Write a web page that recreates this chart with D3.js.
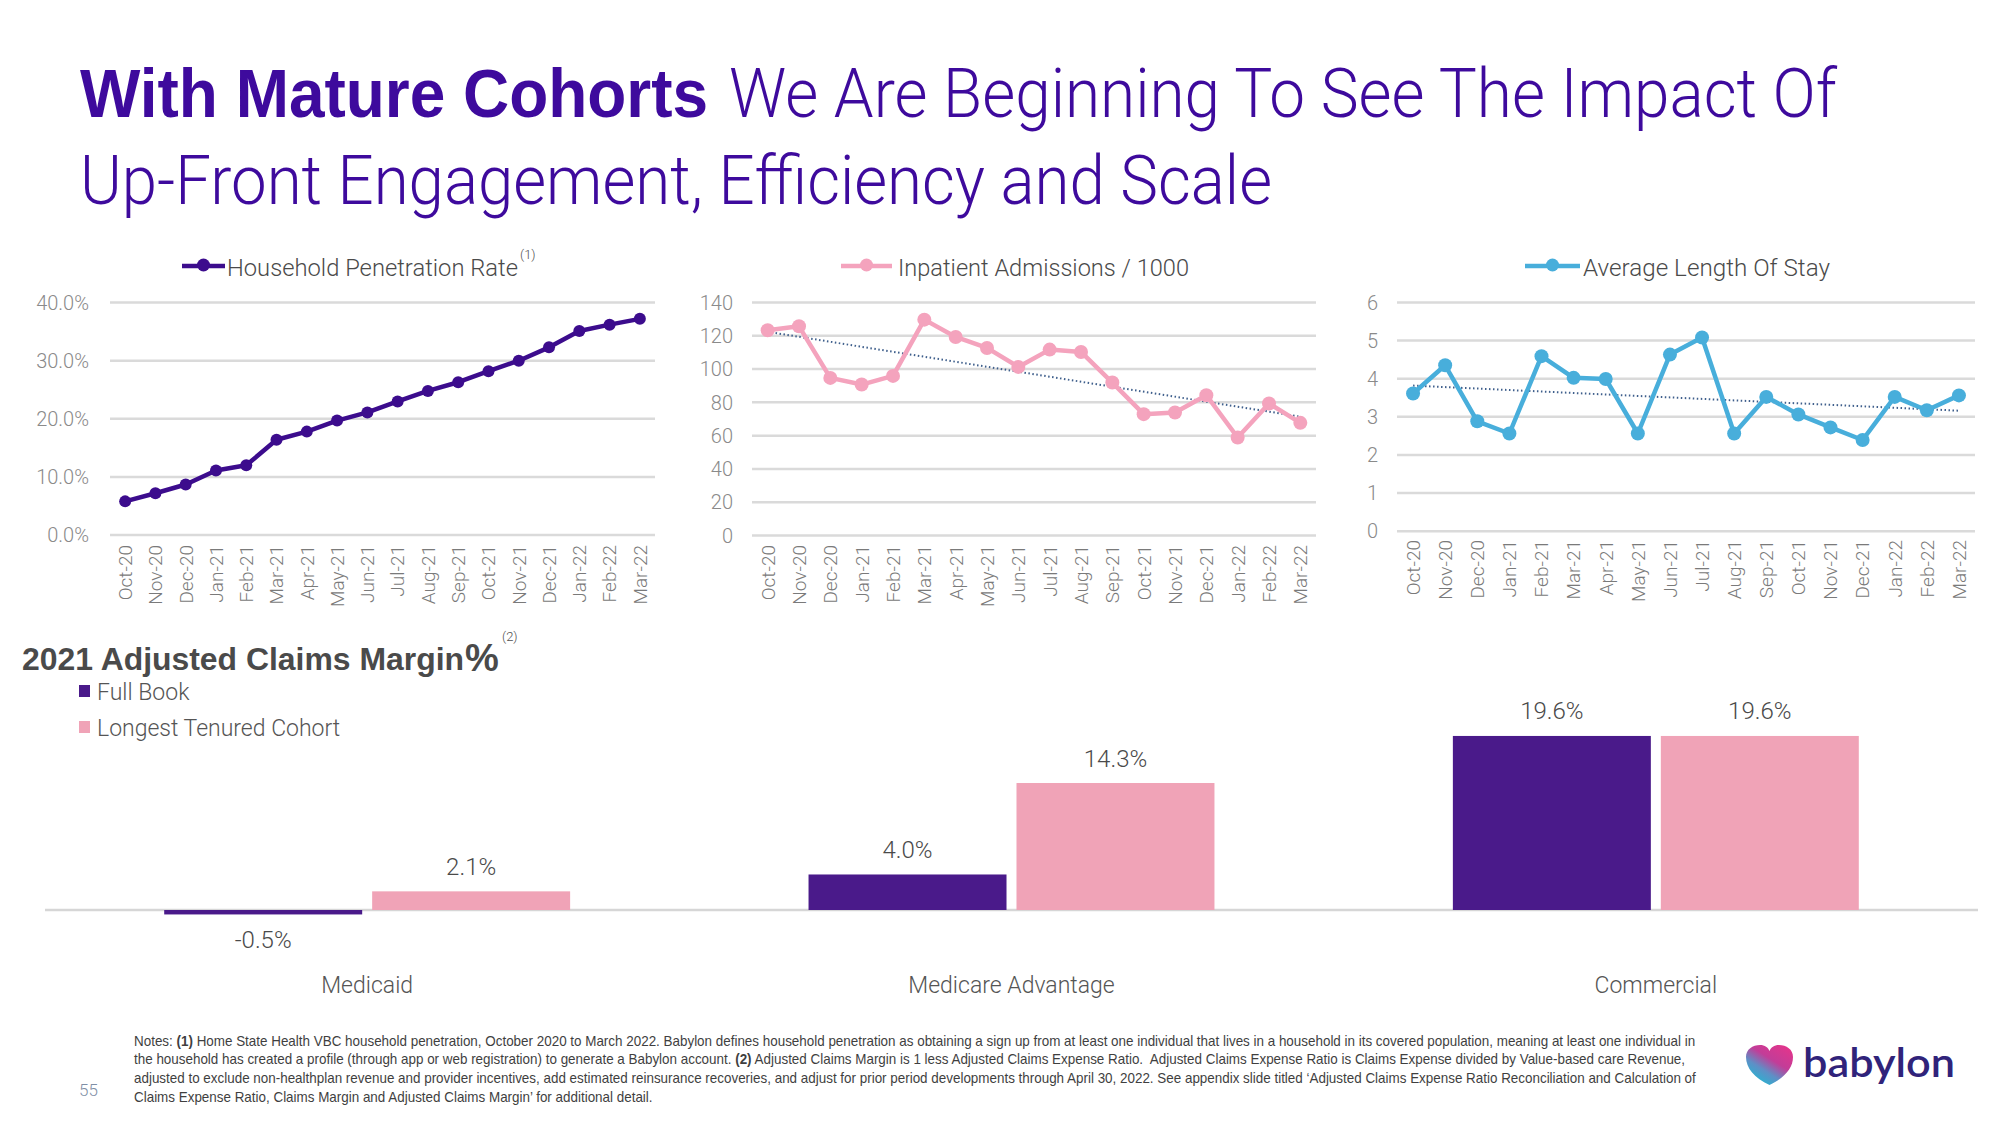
<!DOCTYPE html>
<html><head><meta charset="utf-8">
<script src="https://cdn.jsdelivr.net/npm/d3@7"></script>
<style>body{margin:0;background:#fff}svg{display:block}</style>
</head><body>
<svg id="c" width="2000" height="1125"></svg>
<script>
// ---------- DATA ----------
const months = ["Oct-20","Nov-20","Dec-20","Jan-21","Feb-21","Mar-21","Apr-21","May-21","Jun-21","Jul-21","Aug-21","Sep-21","Oct-21","Nov-21","Dec-21","Jan-22","Feb-22","Mar-22"];
const penetration = [5.7,7.1,8.6,11.0,11.9,16.3,17.7,19.6,21.0,22.9,24.7,26.2,28.1,29.9,32.2,35.0,36.1,37.1];
const admissions = [123,125.4,94.4,90.4,95.6,129.4,119,112.4,101,111.4,110,91.6,72.6,73.6,84,58.6,79,67.4];
const alos = [3.60,4.34,2.87,2.55,4.58,4.01,3.98,2.55,4.62,5.07,2.55,3.51,3.05,2.71,2.38,3.51,3.16,3.55];
const pctTicks = [0,10,20,30,40];
const admTicks = [0,20,40,60,80,100,120,140];
const alosTicks = [0,1,2,3,4,5,6];
const groups = ["Medicaid","Medicare Advantage","Commercial"];
const seriesNames = ["Full Book","Longest Tenured Cohort"];
const fullBook = [-0.5,4.0,19.6];
const longestTenured = [2.1,14.3,19.6];

const titleBold = "With Mature Cohorts";
const titleRest1 = "We Are Beginning To See The Impact Of";
const titleLine2 = "Up-Front Engagement, Efficiency and Scale";
const notes = [
  [["Notes: ",0],["(1)",1],[" Home State Health VBC household penetration, October 2020 to March 2022. Babylon defines household penetration as obtaining a sign up from at least one individual that lives in a household in its covered population, meaning at least one individual in",0]],
  [["the household has created a profile (through app or web registration) to generate a Babylon account. ",0],["(2)",1],[" Adjusted Claims Margin is 1 less Adjusted Claims Expense Ratio.\u00a0 Adjusted Claims Expense Ratio is Claims Expense divided by Value-based care Revenue,",0]],
  [["adjusted to exclude non-healthplan revenue and provider incentives, add estimated reinsurance recoveries, and adjust for prior period developments through April 30, 2022. See appendix slide titled \u2018Adjusted Claims Expense Ratio Reconciliation and Calculation of",0]],
  [["Claims Expense Ratio, Claims Margin and Adjusted Claims Margin\u2019 for additional detail.",0]]
];

// ---------- DRAW ----------
const svg = d3.select("#c");
const LIGHT = "Roboto, 'Liberation Sans', Arial, sans-serif";
const SANS = "'Liberation Sans', Arial, sans-serif";
function fit(sel, w){ return sel.attr("textLength", w).attr("lengthAdjust","spacingAndGlyphs"); }

const titleColor = "#3e0a9d";
fit(svg.append("text").attr("x",80).attr("y",117).attr("font-family",SANS).attr("font-weight",700)
  .attr("font-size",68).attr("fill",titleColor).text(titleBold), 628);
fit(svg.append("text").attr("x",729).attr("y",117).attr("font-family",LIGHT).attr("font-weight",300)
  .attr("font-size",68).attr("fill",titleColor).text(titleRest1), 1108);
fit(svg.append("text").attr("x",80).attr("y",204).attr("font-family",LIGHT).attr("font-weight",300)
  .attr("font-size",68).attr("fill",titleColor).text(titleLine2), 1192);

function lineChart(cfg){
  const g = svg.append("g");
  const x = d3.scaleBand().domain(months).range(cfg.xr);
  const y = d3.scaleLinear().domain([0, cfg.ymax]).range([cfg.y0, cfg.yTop]);
  const cx = i => x(months[i]) + x.bandwidth()/2;
  const ga = g.append("g").attr("transform",`translate(${cfg.xr[0]},0)`)
    .call(d3.axisLeft(y).tickValues(cfg.ticks).tickFormat(cfg.fmt)
      .tickSize(-(cfg.xr[1]-cfg.xr[0])).tickPadding(cfg.xr[0]-cfg.labelRight));
  ga.select(".domain").remove();
  ga.selectAll(".tick line").attr("stroke","#dadada").attr("stroke-width",2.5);
  ga.selectAll(".tick text").attr("font-family",LIGHT).attr("font-weight",300)
    .attr("font-size",20).attr("fill","#8a8a8a").attr("dy","0.36em");
  const gx = g.append("g").attr("transform",`translate(0,${cfg.y0})`)
    .call(d3.axisBottom(x).tickSize(0).tickPadding(0));
  gx.select(".domain").remove();
  gx.selectAll(".tick text").attr("transform","rotate(-90)").attr("text-anchor","end")
    .attr("x", -(cfg.labelTop - cfg.y0)).attr("y",0).attr("dy","0.36em")
    .attr("font-family",LIGHT).attr("font-weight",300).attr("font-size",19).attr("fill","#7a7a7a");
  if (cfg.trend){
    const n = cfg.values.length;
    const mx = d3.mean(cfg.values,(d,i)=>i), my = d3.mean(cfg.values);
    const sxy = d3.sum(cfg.values,(d,i)=>(i-mx)*(d-my)), sxx = d3.sum(cfg.values,(d,i)=>(i-mx)*(i-mx));
    const b = sxy/sxx, a = my - b*mx;
    g.append("line").attr("x1",cx(0)).attr("x2",cx(n-1)).attr("y1",y(a)).attr("y2",y(a+b*(n-1)))
      .attr("stroke","#3f5f8c").attr("stroke-width",2).attr("stroke-dasharray","1.5,2.5");
  }
  g.append("path").datum(cfg.values).attr("fill","none").attr("stroke",cfg.color)
    .attr("stroke-width",cfg.sw).attr("stroke-linejoin","round")
    .attr("d", d3.line().x((d,i)=>cx(i)).y(d=>y(d)));
  g.selectAll("circle.pt").data(cfg.values).join("circle").attr("class","pt")
    .attr("cx",(d,i)=>cx(i)).attr("cy",d=>y(d)).attr("r",cfg.r).attr("fill",cfg.color);
  // legend
  const L = cfg.legend;
  g.append("line").attr("x1",L.x1).attr("x2",L.x2).attr("y1",266).attr("y2",266)
    .attr("stroke",cfg.color).attr("stroke-width",4.5);
  g.append("circle").attr("cx",(L.x1+L.x2)/2).attr("cy",265).attr("r",6.5).attr("fill",cfg.color);
  fit(g.append("text").attr("x",L.tx).attr("y",276).attr("font-family",LIGHT).attr("font-weight",300)
    .attr("font-size",23).attr("fill","#4a4a4a").text(L.text), L.tw);
  if (L.sup) g.append("text").attr("x",L.tx+L.tw+2).attr("y",259).attr("font-family",LIGHT)
    .attr("font-weight",300).attr("font-size",13).attr("fill","#505050").text(L.sup);
}

lineChart({xr:[110,655], y0:534.5, yTop:302, ymax:40, ticks:pctTicks, fmt:d=>d.toFixed(1)+"%",
  labelRight:89, labelTop:545, values:penetration, color:"#3c0c8d", r:6, sw:4.5, trend:false,
  legend:{x1:182,x2:225,tx:227,tw:291,text:"Household Penetration Rate",sup:"(1)"}});
lineChart({xr:[752,1316], y0:535, yTop:302, ymax:140, ticks:admTicks, fmt:d=>d,
  labelRight:733, labelTop:545, values:admissions, color:"#f4a3bd", r:7, sw:4.5, trend:true,
  legend:{x1:841,x2:892,tx:898,tw:291,text:"Inpatient Admissions / 1000"}});
lineChart({xr:[1397,1975], y0:530.7, yTop:302, ymax:6, ticks:alosTicks, fmt:d=>d,
  labelRight:1378, labelTop:540, values:alos, color:"#48aedb", r:7, sw:4.5, trend:true,
  legend:{x1:1525,x2:1580,tx:1583,tw:247,text:"Average Length Of Stay"}});

// ---------- BAR SECTION ----------
const gb = svg.append("g");
fit(gb.append("text").attr("x",22).attr("y",670).attr("font-family",SANS).attr("font-weight",700)
  .attr("font-size",31).attr("fill","#4a4a4a").text("2021 Adjusted Claims Margin"), 442);
gb.append("text").attr("x",465).attr("y",671).attr("font-family",SANS).attr("font-weight",700)
  .attr("font-size",38).attr("fill","#4a4a4a").text("%");
gb.append("text").attr("x",502).attr("y",641).attr("font-family",LIGHT).attr("font-weight",300)
  .attr("font-size",13).attr("fill","#505050").text("(2)");

const barColors = ["#4a1a8a","#f0a3b7"];
seriesNames.forEach((s,i)=>{
  const yy = [685,721][i];
  gb.append("rect").attr("x",79).attr("y",yy).attr("width",11).attr("height",12).attr("fill",barColors[i]);
  gb.append("text").attr("x",97).attr("y",yy+15).attr("font-family",LIGHT).attr("font-weight",300)
    .attr("font-size",23).attr("fill","#555").text(s);
});

const x0 = d3.scaleBand().domain(groups).range([45,1978]).paddingInner(0.37).paddingOuter(0.185);
const x1 = d3.scaleBand().domain(seriesNames).range([0,x0.bandwidth()]).paddingInner(0.048);
const yb = d3.scaleLinear().domain([0,20]).range([910,732.4]);

gb.append("line").attr("x1",45).attr("x2",1978).attr("y1",yb(0)).attr("y2",yb(0))
  .attr("stroke","#d6d6d6").attr("stroke-width",2.5);

const barData = [];
groups.forEach((gname,gi)=>{
  barData.push({g:gname,s:seriesNames[0],v:fullBook[gi],c:barColors[0]});
  barData.push({g:gname,s:seriesNames[1],v:longestTenured[gi],c:barColors[1]});
});
gb.selectAll("rect.bar").data(barData).join("rect").attr("class","bar")
  .attr("x",d=>x0(d.g)+x1(d.s)).attr("width",x1.bandwidth())
  .attr("y",d=>Math.min(yb(d.v),yb(0))).attr("height",d=>Math.abs(yb(d.v)-yb(0)))
  .attr("fill",d=>d.c);
gb.selectAll("text.val").data(barData).join("text").attr("class","val")
  .attr("x",d=>x0(d.g)+x1(d.s)+x1.bandwidth()/2)
  .attr("y",d=>d.v>=0 ? yb(d.v)-16.5 : yb(d.v)+34)
  .attr("text-anchor","middle").attr("font-family",LIGHT).attr("font-weight",300)
  .attr("font-size",24).attr("fill","#4a4a4a").text(d=>d.v.toFixed(1)+"%");
gb.selectAll("text.cat").data(groups).join("text").attr("class","cat")
  .attr("x",d=>x0(d)+x0.bandwidth()/2).attr("y",993).attr("text-anchor","middle")
  .attr("font-family",LIGHT).attr("font-weight",300).attr("font-size",23).attr("fill","#555").text(d=>d);

// ---------- NOTES ----------
const gn = svg.append("g");
const noteY = [1046,1064,1083,1102];
const noteEls = notes.map((line,li)=>{
  const t = gn.append("text").attr("font-family",SANS).attr("font-size",14).attr("fill","#3f3f3f");
  line.forEach(([s,b])=>t.append("tspan").attr("font-weight",b?700:400).text(s));
  return t;
});
const w0 = noteEls[0].node().getComputedTextLength();
const k = 1563 / w0;
noteEls.forEach((t,i)=>t.attr("transform",`translate(134,${noteY[i]}) scale(${k},1)`));

svg.append("text").attr("x",79).attr("y",1096).attr("font-family",LIGHT).attr("font-weight",300)
  .attr("font-size",17).attr("fill","#7f8fa6").text("55");

// ---------- LOGO ----------
const defs = svg.append("defs");
const grad = defs.append("linearGradient").attr("id","hg").attr("x1","1").attr("y1","0").attr("x2","0.25").attr("y2","1");
grad.append("stop").attr("offset","0").attr("stop-color","#ea3389");
grad.append("stop").attr("offset","0.45").attr("stop-color","#c23d98");
grad.append("stop").attr("offset","0.7").attr("stop-color","#5e8fc6");
grad.append("stop").attr("offset","1").attr("stop-color","#1fbad3");
const hx = 1746, hy = 1045, hw = 47, hh = 40;
const P = (u,v)=>`${hx+u*hw},${hy+v*hh}`;
svg.append("path").attr("fill","url(#hg)").attr("d",
  `M${P(0.5,1)} C${P(0.18,0.82)} ${P(0,0.58)} ${P(0,0.3)} C${P(0,0.11)} ${P(0.14,0)} ${P(0.3,0)} C${P(0.4,0)} ${P(0.47,0.06)} ${P(0.5,0.15)} C${P(0.53,0.06)} ${P(0.6,0)} ${P(0.7,0)} C${P(0.86,0)} ${P(1,0.11)} ${P(1,0.3)} C${P(1,0.58)} ${P(0.82,0.82)} ${P(0.5,1)} Z`);
fit(svg.append("text").attr("x",1803).attr("y",1077).attr("font-family","Lato, 'Open Sans', sans-serif")
  .attr("font-weight",600).attr("font-size",40).attr("fill","#30237a").text("babylon"), 152);
</script>
</body></html>
